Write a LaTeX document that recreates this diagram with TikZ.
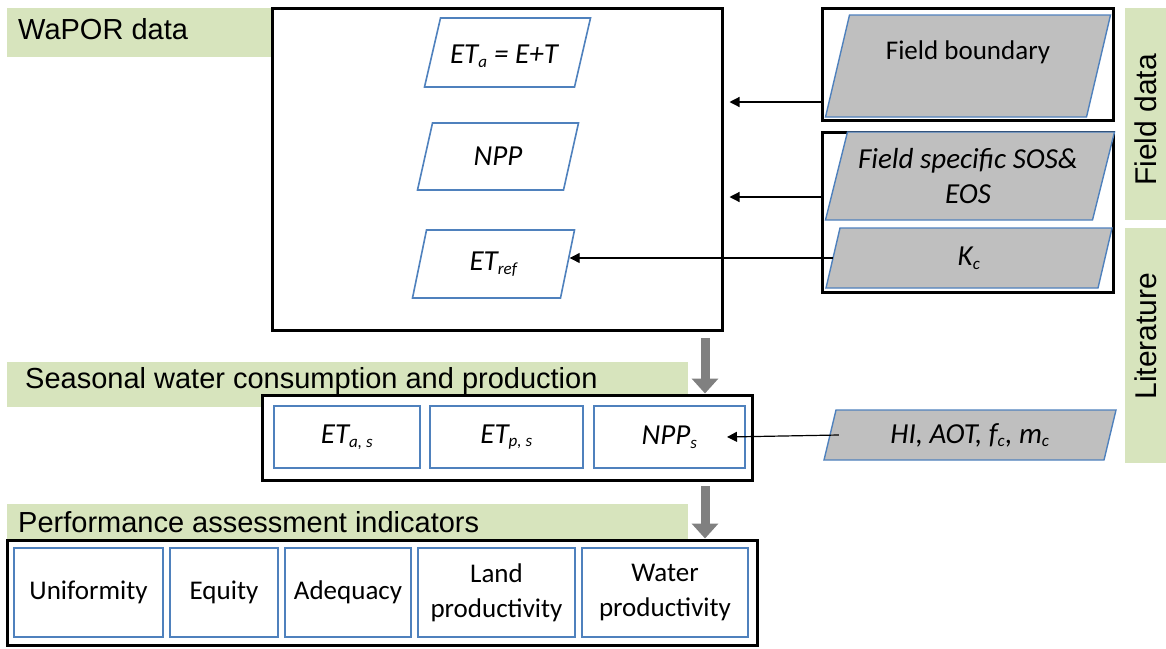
\documentclass[tikz,border=0pt]{standalone}
\usepackage{fontspec}
\setmainfont{Carlito}
\newfontfamily\arialf{Liberation Sans}
\usetikzlibrary{arrows.meta,calc}
\definecolor{bbord}{RGB}{79,129,189}
\definecolor{gfill}{RGB}{191,191,191}
\definecolor{lgreen}{RGB}{215,228,189}
\definecolor{garrow}{RGB}{128,128,128}
\newcommand\pgram[7]{%
  \path[#7] ({#2-#4/2+#6},{#3-#5/2}) -- ({#2+#4/2+#6},{#3-#5/2}) -- ({#2+#4/2-#6},{#3+#5/2}) -- ({#2-#4/2-#6},{#3+#5/2}) -- cycle;
  \node[minimum width=#4, minimum height=#5, inner sep=0pt] (#1) at (#2,#3) {};
}
\newcommand\sub[1]{\textsubscript{\fontsize{17}{17}\selectfont #1}}
\tikzset{
  x=1pt, y=-1pt,
  whitepg/.style={fill=white, draw=bbord, line width=1.6pt},
  graypg/.style={fill=gfill, draw=bbord, line width=1.4pt},
  greenlab/.style={fill=lgreen, draw=none},
  labtext/.style={font=\arialf\fontsize{29}{34}\selectfont, anchor=west, inner sep=0pt},
  vtext/.style={font=\arialf\fontsize{30}{34}\selectfont, rotate=90, inner sep=0pt},
  outerbox/.style={draw=black, line width=3pt, fill=white, minimum width=#1, inner sep=0pt},
  innerbox/.style={draw=bbord, line width=2pt, fill=white, inner sep=0pt, align=center,
    font=\fontsize{27}{35}\selectfont},
  itext/.style={font=\itshape\fontsize{29}{35}\selectfont, align=center, inner sep=0pt},
  thinarrow/.style={draw=black, line width=1.2pt, -{Triangle[length=10pt,width=10pt]}},
  bigarrow/.style={draw=garrow, line width=9pt, -{Triangle[length=15pt,width=26pt]}},
}
\begin{document}
\begin{tikzpicture}
\useasboundingbox (0,0) rectangle (1166,648);
% green labels
\fill[greenlab] (7,8) rectangle (272,57);
\fill[greenlab] (7,362) rectangle (688,407);
\fill[greenlab] (7,504) rectangle (688,540);
\fill[greenlab] (1125,8) rectangle (1166,220);
\fill[greenlab] (1125,228) rectangle (1166,463);
\node[labtext] (lwapor) at (18,29) {WaPOR data};
\node[labtext] (lseason) at (25,381) {Seasonal water consumption and production};
\node[labtext] (lperf) at (18,522) {Performance assessment indicators};
\node[vtext] (lfield) at (1146,120) {Field data};
\node[vtext] (llit) at (1146,336) {Literature};
% main box
\node[outerbox=450pt, minimum height=322pt] (main) at (497,169) {};
\pgram{eta}{507.5}{52.5}{150}{69}{8}{whitepg}
\node[itext] (etat) at (504,56) {ET\sub{a} = E+T};
\pgram{npp}{498}{156.5}{146}{67}{7.5}{whitepg}
\node[itext] (nppt) at (npp) {NPP};
\pgram{etr}{493.5}{264}{148}{68}{7}{whitepg}
\node[itext] (etrt) at (etr) {ET\sub{ref}};
% right boxes
\node[outerbox=291pt, minimum height=112pt] (box1) at (967.5,64) {};
\node[outerbox=291pt, minimum height=160pt] (box2) at (967.5,212) {};
\pgram{fb}{968}{66}{261}{102}{12}{graypg}
\node[font=\fontsize{27}{32}\selectfont, inner sep=0pt] (fbt) at (968,52) {Field boundary};
\pgram{sos}{970}{176}{267}{88}{11}{graypg}
\node[itext] (sost) at (968,176) {Field specific SOS\&\\EOS};
\pgram{kc}{969}{258}{272}{60}{7}{graypg}
\node[itext] (kct) at (kc) {K\sub{c}};
\pgram{hi}{970}{435}{280}{50}{6}{graypg}
\node[itext] (hit) at (hi) {HI, AOT, f\sub{c}, m\sub{c}};
% seasonal box
\node[outerbox=490pt, minimum height=85pt] (sbox) at (507,437.5) {};
\node[innerbox, minimum width=146pt, minimum height=62pt] (etas) at (347,437) {\itshape\fontsize{29}{35}\selectfont ET\sub{a, s}};
\node[innerbox, minimum width=153pt, minimum height=62pt] (etps) at (506.5,437) {\itshape\fontsize{29}{35}\selectfont ET\sub{p, s}};
\node[innerbox, minimum width=151pt, minimum height=62pt] (npps) at (669.5,437) {\itshape\fontsize{29}{35}\selectfont NPP\sub{s}};
% performance box
\node[outerbox=750pt, minimum height=105pt] (pbox) at (382,592.5) {};
\node[innerbox, minimum width=149pt, minimum height=89pt] (uni) at (88.5,592.5) {Uniformity};
\node[innerbox, minimum width=108pt, minimum height=89pt] (equ) at (224,592.5) {Equity};
\node[innerbox, minimum width=126pt, minimum height=89pt] (ade) at (348,592.5) {Adequacy};
\node[innerbox, minimum width=157pt, minimum height=89pt] (land) at (496.5,592.5) {Land\\productivity};
\node[innerbox, minimum width=166pt, minimum height=89pt] (water) at (665,592.5) {Water\\productivity};
% thin arrows
\draw[thinarrow, shorten >=6pt] (box1.west |- 0,102) -- (main.east |- 0,102);
\draw[thinarrow, shorten >=6pt] (box2.west |- 0,197) -- (main.east |- 0,197);
\draw[thinarrow, shorten >=2pt] (kc.west |- 0,258) -- (etr.east |- 0,258);
\draw[thinarrow] ([xshift=9pt]hi.west) -- ([xshift=-19pt]npps.east);
% big arrows
\coordinate (a1) at (705,338);
\coordinate (a2) at (705,486);
\draw[bigarrow] (a1) -- (a1 |- sbox.north);
\draw[bigarrow] (a2) -- (a2 |- pbox.north);
\end{tikzpicture}
\end{document}
